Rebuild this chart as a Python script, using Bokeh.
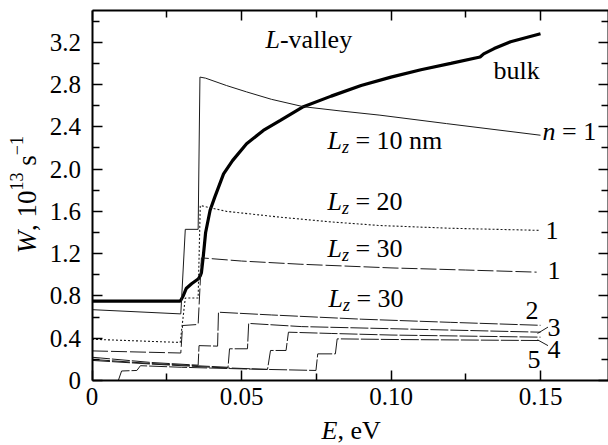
import math
from bokeh.plotting import figure
from bokeh.models import (Range1d, FixedTicker, LinearAxis, Label,
                          CustomJSTickFormatter)
from bokeh.embed import file_html
from bokeh.resources import INLINE

# ---------------- data ----------------
bulk_E = [0.0, 0.0295, 0.0305, 0.0315, 0.0333, 0.0355, 0.0362, 0.0366, 0.0372, 0.0380,
          0.0395, 0.0410, 0.0440, 0.0470, 0.0517, 0.0573, 0.0630, 0.0707, 0.0800, 0.0900,
          0.1000, 0.1100, 0.1200, 0.1298, 0.1310, 0.1345, 0.1400, 0.1500]
bulk_W = [0.75, 0.75, 0.80, 0.87, 0.915, 0.96, 0.99, 1.02, 1.17, 1.40,
          1.61, 1.73, 1.955, 2.08, 2.24, 2.365, 2.46, 2.59, 2.69, 2.79,
          2.87, 2.94, 3.00, 3.06, 3.09, 3.14, 3.205, 3.28]

lz10_E = [0.0, 0.0297, 0.0312, 0.0355, 0.0361, 0.0380, 0.0450, 0.0517, 0.0600, 0.0707,
          0.0830, 0.0963, 0.1186, 0.1500]
lz10_W = [0.67, 0.63, 1.43, 1.43, 2.87, 2.86, 2.79, 2.73, 2.66, 2.59,
          2.55, 2.51, 2.43, 2.32]

lz20_E = [0.0, 0.0295, 0.0312, 0.0355, 0.0362, 0.0450, 0.0629, 0.0800, 0.0963, 0.1200, 0.1500]
lz20_W = [0.39, 0.36, 0.78, 0.78, 1.655, 1.60, 1.545, 1.50, 1.466, 1.44, 1.42]

lz30_n1_E = [0.0, 0.0297, 0.0303, 0.0355, 0.0366, 0.0500, 0.0696, 0.1000, 0.1250, 0.1487]
lz30_n1_W = [0.28, 0.26, 0.52, 0.53, 1.16, 1.13, 1.10, 1.065, 1.045, 1.025]

lz30_n2_E = [0.0, 0.0200, 0.0355, 0.0358, 0.0420, 0.0423, 0.0600, 0.0900, 0.1200, 0.1500]
lz30_n2_W = [0.22, 0.17, 0.145, 0.33, 0.325, 0.646, 0.62, 0.58, 0.55, 0.522]

lz30_n3_E = [0.0, 0.0200, 0.0455, 0.0460, 0.0520, 0.0524, 0.0700, 0.1000, 0.1500]
lz30_n3_W = [0.20, 0.16, 0.125, 0.30, 0.30, 0.54, 0.51, 0.49, 0.457]

lz30_n4_E = [0.0, 0.0200, 0.0400, 0.0587, 0.0597, 0.0649, 0.0657, 0.0800, 0.1000, 0.1500]
lz30_n4_W = [0.19, 0.155, 0.125, 0.105, 0.284, 0.284, 0.457, 0.445, 0.43, 0.41]

lz30_n5_E = [0.0088, 0.0099, 0.0150, 0.0162, 0.0300, 0.0500, 0.0749, 0.0755, 0.0814, 0.0820,
             0.1000, 0.1500]
lz30_n5_W = [0.0, 0.09, 0.095, 0.14, 0.125, 0.11, 0.095, 0.252, 0.252, 0.394,
             0.388, 0.378]

x_ticks = [0.0, 0.05, 0.10, 0.15]
x_tick_labels = ["0", "0.05", "0.10", "0.15"]
x_minor = [0.025, 0.075, 0.125]
y_ticks = [0.0, 0.4, 0.8, 1.2, 1.6, 2.0, 2.4, 2.8, 3.2]
y_tick_labels = ["0", "0.4", "0.8", "1.2", "1.6", "2.0", "2.4", "2.8", "3.2"]
y_minor = [0.2, 0.6, 1.0, 1.4, 1.8, 2.2, 2.6, 3.0, 3.4]
Y_TOP = 3.5

# ---------------- figure geometry ----------------
W_PX, H_PX = 608, 445
ORG_X, ORG_Y = 91.5, 380.0      # canvas px of data (0, 0)
PXX = 2990.0                    # px per eV
PXY = 370.0 / Y_TOP             # px per unit W
x_start, x_end = -ORG_X / PXX, (W_PX - ORG_X) / PXX
y_start, y_end = -(H_PX - ORG_Y) / PXY, ORG_Y / PXY

p = figure(width=W_PX, height=H_PX, x_range=Range1d(x_start, x_end),
           y_range=Range1d(y_start, y_end),
           output_backend="svg", toolbar_location=None,
           x_axis_type=None, y_axis_type=None,
           min_border_left=0, min_border_right=0, min_border_top=0, min_border_bottom=0)
p.outline_line_color = None
p.background_fill_color = "white"
p.border_fill_color = "white"

FONT = "Liberation Serif"

def make_axis(ticks, minor, labels, show_labels, loc, bounds):
    if show_labels:
        fmt = CustomJSTickFormatter(args=dict(vals=ticks, labs=labels), code="""
            for (let i = 0; i < vals.length; i++) {
                if (Math.abs(vals[i] - tick) < 1e-9) return labs[i];
            }
            return '';
        """)
    else:
        fmt = CustomJSTickFormatter(code="return '';")
    ax = LinearAxis(ticker=FixedTicker(ticks=ticks, minor_ticks=minor), formatter=fmt,
                    fixed_location=loc, bounds=bounds)
    ax.axis_line_width = 2
    ax.axis_line_color = "black"
    ax.major_tick_in = 10
    ax.major_tick_out = 0
    ax.minor_tick_in = 7
    ax.minor_tick_out = 0
    ax.major_tick_line_width = 1.5
    ax.minor_tick_line_width = 1.5
    ax.major_tick_line_color = "black"
    ax.minor_tick_line_color = "black"
    ax.major_label_text_font = FONT
    ax.major_label_text_color = "black"
    ax.major_label_text_font_size = "25px"
    return ax

xb = make_axis(x_ticks, x_minor, x_tick_labels, True, 0.0, (0.0, x_end))
xb.major_label_standoff = 7
yl = make_axis(y_ticks, y_minor, y_tick_labels, True, 0.0, (0.0, Y_TOP))
yl.major_label_standoff = 11
xt = make_axis(x_ticks, x_minor, x_tick_labels, False, Y_TOP, (0.0, x_end))
yr = make_axis(y_ticks, y_minor, y_tick_labels, False, x_end, (0.0, Y_TOP))
p.add_layout(xb, "below")
p.add_layout(yl, "left")
p.add_layout(xt, "above")
p.add_layout(yr, "right")

# ---------------- curves ----------------
INK = "#1a1a1a"
p.line(bulk_E, bulk_W, line_color="black", line_width=3.2)
p.line(lz10_E, lz10_W, line_color=INK, line_width=1)
p.line(lz20_E, lz20_W, line_color=INK, line_width=1.1, line_dash="2 2")
p.line(lz30_n1_E, lz30_n1_W, line_color=INK, line_width=1, line_dash="16 3")
for E, Wv in [(lz30_n2_E, lz30_n2_W), (lz30_n3_E, lz30_n3_W),
              (lz30_n4_E, lz30_n4_W), (lz30_n5_E, lz30_n5_W)]:
    p.line(E, Wv, line_color=INK, line_width=1, line_dash="18 2")

# leader lines for labels 3 and 4
lead_x0 = [0.1490, 0.1490]
lead_y0 = [0.445, 0.385]
lead_x1 = [0.1525, 0.1525]
lead_y1 = [0.505, 0.33]
p.segment(lead_x0, lead_y0, lead_x1, lead_y1, line_color=INK, line_width=1)

# ---------------- text ----------------
SHIFT = 8   # rendered labels sit this far below their anchor; compensate

def dx(px):
    return (px - ORG_X) / PXX
def dy(py):
    return (ORG_Y - py) / PXY

ROMAN = {' ': 0.25, ',': 0.25, '.': 0.25, '=': 0.564, 'n': 0.5, 'm': 0.778, 's': 0.389,
         'e': 0.444, 'V': 0.722, '-': 0.333, 'v': 0.5, 'a': 0.444, 'l': 0.278, 'y': 0.5,
         'b': 0.5, 'u': 0.5, 'k': 0.5, '\u2212': 0.564}
ITAL = {'L': 0.556, 'z': 0.389, 'n': 0.5, 'E': 0.611, 'W': 0.833}

def tw(s, style, size):
    tab = ITAL if style == "italic" else ROMAN
    return sum(tab.get(c, 0.5) for c in s) * size

def add_run(x_px, y_px, parts, rotated=False):
    pos = x_px if not rotated else y_px
    for text, style, size, rise in parts:
        stripped = text.lstrip(' ')
        pos += (len(text) - len(stripped)) * 0.25 * size * (-1 if rotated else 1)
        if not rotated:
            lab = Label(x=dx(pos), y=dy(y_px - rise - SHIFT), text=stripped,
                        text_align="left", text_baseline="alphabetic")
            pos += tw(stripped, style, size)
        else:
            lab = Label(x=dx(x_px - rise - SHIFT), y=dy(pos), text=stripped, angle=math.pi / 2,
                        text_align="left", text_baseline="alphabetic")
            pos -= tw(stripped, style, size)
        lab.text_font = FONT
        lab.text_font_style = style
        lab.text_font_size = f"{size}px"
        lab.text_color = "black"
        p.add_layout(lab)

A = 26   # annotation font size
S = 18   # sub/superscript size
def lz(x, y, rest):
    add_run(x, y, [("L", "italic", A, 0), ("z", "italic", S, -6), (" = " + rest, "normal", A, 0)])

add_run(265, 47, [("L", "italic", A, 0), ("-valley", "normal", A, 0)])
add_run(493, 78, [("bulk", "normal", A, 0)])
lz(327, 148, "10 nm")
add_run(542, 139, [("n", "italic", A, 0), (" = 1", "normal", A, 0)])
lz(327, 209, "20")
add_run(545, 238, [("1", "normal", A, 0)])
lz(327, 256, "30")
add_run(547, 278, [("1", "normal", A, 0)])
lz(328, 306, "30")
add_run(525, 318, [("2", "normal", A, 0)])
add_run(547, 335, [("3", "normal", A, 0)])
add_run(547, 357, [("4", "normal", A, 0)])
add_run(527, 367, [("5", "normal", A, 0)])

# axis titles
add_run(321, 438, [("E", "italic", A, 0), (", eV", "normal", A, 0)])
add_run(34, 253, [("W", "italic", 27, 0), (", 10", "normal", 27, 0), ("13", "normal", S, 10),
                  (" s", "normal", 27, 0), ("\u22121", "normal", S, 10)], rotated=True)

open("out.html", "w").write(file_html(p, INLINE))
